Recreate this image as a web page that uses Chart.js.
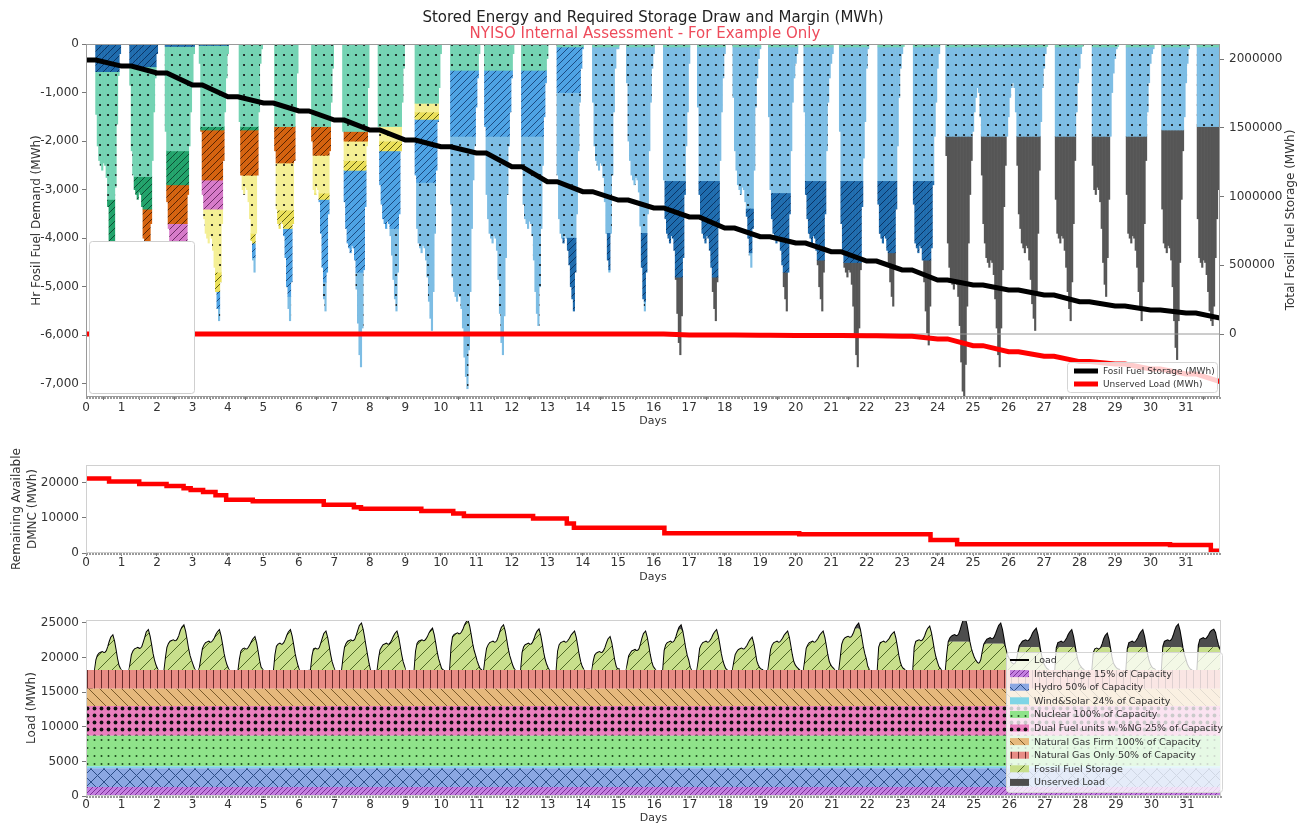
<!DOCTYPE html>
<html><head><meta charset="utf-8">
<script src="https://cdn.jsdelivr.net/npm/chart.js@4.4.1/dist/chart.umd.min.js"></script>
<style>
body{margin:0;background:#fff;width:1301px;height:825px;overflow:hidden;position:relative;font-family:'DejaVu Sans',sans-serif;}
canvas{position:absolute;left:0;}
.t{position:absolute;left:0;text-align:center;font-size:15px;line-height:18px;white-space:nowrap;z-index:3;}
#rt{position:absolute;left:1140px;top:211px;width:300px;height:18px;line-height:18px;text-align:center;font-size:12px;color:#333;transform:rotate(-90deg);transform-origin:150px 9px;z-index:3;white-space:nowrap;}
</style></head><body>
<canvas id="c1" width="1301" height="432" style="top:0"></canvas>
<canvas id="c2" width="1301" height="150" style="top:440px"></canvas>
<canvas id="c3" width="1301" height="225" style="top:600px"></canvas>
<div class="t" style="top:8px;width:1306px;color:#222">Stored Energy and Required Storage Draw and Margin (MWh)</div>
<div class="t" style="top:24px;width:1290px;color:#ee4b5b">NYISO Internal Assessment - For Example Only</div>
<div id="rt">Total Fosil Fuel Storage (MWh)</div>
<script>
// ---------------- DATA ----------------
const dayTickLabels = [0,1,2,3,4,5,6,7,8,9,10,11,12,13,14,15,16,17,18,19,20,21,22,23,24,25,26,27,28,29,30,31];

// hourly load (MWh), 24 values per day, days 0..31
const hourlyLoad = [
16600,16000,15600,15400,15600,16300,18050,19650,20300,20600,20700,20800,20650,20700,20950,21550,22300,22900,23150,22350,21150,19850,18850,18400,
18000,17400,17000,16800,17000,17700,19050,20400,20900,21200,21300,21400,21250,21300,21550,22200,22900,23650,23900,23100,21900,20600,19600,18900,
18400,17900,17700,17600,17800,18100,20000,21450,22000,22300,22400,22500,22350,22400,22650,23150,23850,24350,24600,23800,22600,21300,20300,19600,
19000,18400,18000,17800,17900,18600,20000,21300,21800,22100,22200,22300,22150,22200,22450,22800,23300,23650,23900,23100,21900,20600,19600,18900,
18400,18000,17600,17300,17400,17700,17900,18100,19800,20900,21200,21300,21150,21200,21450,21800,22250,22650,22900,22100,20900,19600,18600,18300,
18000,17600,17300,17100,17200,17500,17800,18100,20400,21600,21900,22000,21850,21900,22150,22600,23200,23650,23900,23100,21900,20600,19600,18800,
18100,18000,17950,17900,17950,18000,18050,18100,18150,20200,21200,21300,21150,21200,21450,22100,22800,23450,23700,22900,21700,20400,19400,18700,
18100,17900,17700,17600,17800,18100,20000,21450,22000,22300,22400,22500,22350,22400,22650,23250,23950,24600,24850,24050,22850,21550,20300,19100,
18100,17900,17800,17800,17900,18100,19900,21100,21500,21800,21900,22000,21850,21900,22150,22550,23050,23450,23700,22900,21700,20400,19400,18700,
17900,17400,17100,16900,17100,17700,18100,20900,22000,22300,22400,22500,22350,22400,22650,23000,23500,23850,24100,23300,22100,20800,19800,19100,
18400,18200,18000,17900,17900,18000,18100,21500,23000,23300,23400,23500,23350,23400,23650,24050,24650,25050,25300,24500,23300,22000,21000,20300,
19500,18900,18400,18200,18000,18100,19900,21300,21800,22100,22200,22300,22150,22200,22450,23050,23750,24350,24600,23800,22600,21300,20300,19600,
18900,18400,18100,17800,17800,18000,18100,20700,21500,21800,21900,22000,21850,21900,22150,22650,23300,23750,24000,23200,22000,20700,19700,19000,
18500,18100,17800,17600,17700,17900,18100,20900,21800,22100,22200,22300,22150,22200,22450,22750,23200,23450,23700,22900,21700,20400,19400,18700,
18300,17200,16200,15400,15500,16300,17900,19400,20300,20600,20700,20800,20650,20700,20950,21450,22100,22650,22900,22100,20900,19600,18700,18300,
18300,17500,17100,16900,17000,17800,19000,20200,20600,20900,21000,21100,20950,21000,21250,21950,22800,23450,23700,22900,21700,20400,19400,18700,
18400,18100,17900,17800,17800,17900,18100,21000,21800,22100,22200,22300,22150,22200,22450,23050,23750,24350,24600,23800,22600,21300,20300,19600,
18600,18100,17900,17800,17800,18000,19500,21300,21800,22100,22200,22300,22150,22200,22450,22800,23300,23650,23900,23100,21900,20600,19600,18900,
18400,18200,17700,17300,17400,18000,19300,20400,20800,21100,21200,21300,21150,21200,21450,21750,22200,22550,22800,22000,20800,19500,18900,18500,
18300,18200,17600,17100,17300,18000,19700,21200,21800,22100,22200,22300,22150,22200,22450,22750,23200,23450,23700,22900,21700,20400,19400,18900,
18600,18400,18200,17900,17900,18000,19600,21300,21800,22100,22200,22300,22150,22200,22450,22750,23200,23450,23700,22900,21700,20400,19400,18900,
18600,18400,18100,17800,17800,18100,20000,21900,22500,22800,22900,23000,22850,22900,23150,23600,24200,24600,24850,24050,22850,21550,20550,19800,
18700,18300,17900,17600,17700,17900,18000,18100,21500,22100,22200,22300,22150,22200,22450,22700,23100,23400,23600,22800,21600,20300,19300,18700,
18400,18250,17600,16900,17000,17500,17900,18100,21500,22300,22400,22500,22350,22400,22650,23100,23700,24150,24400,23600,22400,21100,20100,19400,
18700,18400,18100,17900,17900,18100,20500,22300,22800,23050,23150,23250,23100,23150,23400,24000,24750,25350,25600,24800,23600,22300,21300,20600,
20000,19600,19300,19100,19200,19700,20900,21900,22300,22600,22700,22800,22650,22700,22950,23450,24050,24600,24850,24050,22850,21550,20700,20100,
19700,19300,19100,19000,19100,19600,20700,21700,22000,22300,22400,22500,22350,22400,22650,23050,23550,23850,24100,23300,22100,20800,19800,19100,
18700,18400,18250,18000,17800,17900,18000,18150,21400,22100,22200,22300,22150,22200,22450,22800,23300,23650,23900,23100,21900,20600,19600,19000,
18700,18400,18250,17900,17600,17700,17900,18000,18100,20700,21200,21300,21150,21200,21450,22000,22700,23150,23400,22600,21400,20100,19200,18800,
18500,18300,18250,17900,17600,17700,17900,18100,21300,22100,22200,22300,22150,22200,22450,22800,23300,23650,23900,23100,21900,20600,19600,19000,
18600,18400,18300,18000,17800,17900,18000,18100,21600,22300,22400,22500,22350,22400,22650,23200,23900,24450,24700,23900,22700,21400,20400,19700,
19000,18600,18300,18200,17800,17900,18000,18100,21800,22600,22700,22800,22650,22700,22950,23300,23700,23900,24000,23600,22600,21800,21200,20700
];

// constant capacity layers (MWh)
const layerNames = ['Interchange 15% of Capacity','Hydro 50% of Capacity','Wind&Solar 24% of Capacity','Nuclear 100% of Capacity','Dual Fuel units w %NG 25% of Capacity','Natural Gas Firm 100% of Capacity','Natural Gas Only 50% of Capacity'];
const layerMWh = [1300, 2700, 300, 4400, 4300, 2500, 2700];

// level above which load is unserved, per day (null = none)
const unservedCapDaily = [null,null,null,null,null,null,null,null,null,null,null,null,null,null,null,null,24100,null,null,null,null,24200,null,null,22300,22000,21500,21500,21500,21500,21500,21500];

// storage draw bands per day: [resource, lower bound of band (MWh, negative); null = to the bottom]
const dayBands = [
 [['dBlue',-570],['mint',-3200],['green',null]],
 [['dBlue',-470],['mint',-2730],['green',-3400],['orange',null]],
 [['dBlue',-50],['mint',-2200],['green',-2900],['orange',-3700],['pink',null]],
 [['dBlue',-30],['mint',-1700],['green',-1770],['orange',-2800],['pink',-3400],['yDots',-4700],['yHatch',-5100],['mBlue',-5450],['lBlue',null]],
 [['mint',-1700],['green',-1770],['orange',-2700],['yDots',-3900],['yHatch',-4100],['mBlue',-4400],['lBlue',null]],
 [['mint',-1700],['orange',-2450],['yDots',-3420],['yHatch',-3800],['mBlue',-5200],['lBlue',null]],
 [['mint',-1700],['orange',-2290],['yDots',-3070],['yHatch',-3200],['mBlue',-4900],['lBlue',null]],
 [['mint',-1800],['orange',-2000],['yDots',-2400],['yHatch',-2600],['mBlue',-4700],['lBlue',null]],
 [['mint',-1700],['yDots',-2000],['yHatch',-2200],['mBlue',-3800],['lBlue',null]],
 [['mint',-1220],['yDots',-1400],['yHatch',-1550],['mBlue',-2850],['lBlue',null]],
 [['mint',-540],['mBlue',-1900],['lBlue',null]],
 [['mint',-540],['mBlue',-1900],['lBlue',null]],
 [['mint',-540],['mBlue',-1900],['lBlue',null]],
 [['mint',-60],['mBlue',-1000],['lBlue',-4000],['dBlue',null]],
 [['mint',-60],['lBlue',-3900],['dBlue',-4650],['lBlue',null]],
 [['mint',-60],['lBlue',-3900],['dBlue',-5300],['lBlue',null]],
 [['mint',-60],['lBlue',-2830],['dBlue',-4800],['gray',null]],
 [['mint',-60],['lBlue',-2830],['dBlue',-4800],['gray',null]],
 [['mint',-60],['lBlue',-3400],['dBlue',-4300],['lBlue',null]],
 [['mint',-60],['lBlue',-3080],['dBlue',-4700],['gray',null]],
 [['mint',-60],['lBlue',-2830],['dBlue',-4450],['gray',null]],
 [['mint',-60],['lBlue',-2830],['dBlue',-4500],['gray',null]],
 [['mint',-60],['lBlue',-2830],['dBlue',-4300],['gray',null]],
 [['mint',-60],['lBlue',-2830],['dBlue',-4450],['gray',null]],
 [['mint',-60],['lBlue',-1900],['gray',null]],
 [['mint',-60],['lBlue',-1900],['gray',null]],
 [['mint',-60],['lBlue',-1900],['gray',null]],
 [['mint',-60],['lBlue',-1900],['gray',null]],
 [['mint',-60],['lBlue',-1900],['gray',null]],
 [['mint',-60],['lBlue',-1900],['gray',null]],
 [['mint',-60],['lBlue',-1770],['gray',null]],
 [['mint',-60],['lBlue',-1700],['gray',null]]
];

// fossil fuel storage at start of each day (MWh); last value = end of period
const storageDaily = [1994000,1950000,1900000,1812000,1727000,1681000,1623000,1557000,1485000,1412000,1363000,1317000,1218000,1108000,1036000,975000,917000,852000,771000,708000,662000,599000,531000,466000,393000,357000,320000,284000,235000,204000,175000,153000,116000];
// cumulative unserved load (MWh, negative) at start of each day; last = end
const unservedDaily = [0,0,0,0,0,0,0,0,0,0,0,0,0,0,0,0,0,-7000,-8000,-9000,-10000,-10000,-12000,-17000,-36000,-85000,-129000,-162000,-201000,-218000,-255000,-291000,-347000];

// remaining available DMNC (step changes)
const dmncDay = [0,0.65,1.5,2.27,2.75,2.95,3.3,3.65,3.95,4.7,6.7,7.55,7.75,9.45,10.35,10.65,12.6,13.55,13.75,16.3,20.1,23.8,24.55,30.55,31.7,31.96];
const dmncVal = [21200,20300,19600,19000,18400,17900,17300,16400,15100,14700,13700,13000,12600,11900,11200,10500,9800,8400,7200,5600,5300,3700,2500,2300,650,650];

const topLegendLabels = ['Fosil Fuel Storage (MWh)','Unserved Load (MWh)'];

// ---------------- STYLE HELPERS ----------------
const HOURS = hourlyLoad.length;
const DAYS_MAX = (HOURS - 1) / 24;
Chart.defaults.font.family = "'DejaVu Sans', sans-serif";
Chart.defaults.color = '#333';

function makePattern(bg, kind, fg, w, h, r) {
  h = h || w;
  const c = document.createElement('canvas');
  c.width = w; c.height = h;
  const x = c.getContext('2d');
  x.fillStyle = bg; x.fillRect(0, 0, w, h);
  x.strokeStyle = fg; x.fillStyle = fg; x.lineWidth = 1;
  x.beginPath();
  if (kind === 'slash' || kind === 'cross') {
    for (let k = -1; k <= 1; k++) { x.moveTo(k * w, h); x.lineTo(k * w + w, 0); }
  }
  if (kind === 'back' || kind === 'cross') {
    for (let k = -1; k <= 1; k++) { x.moveTo(k * w, 0); x.lineTo(k * w + w, h); }
  }
  if (kind === 'vline') { x.moveTo(w / 2, 0); x.lineTo(w / 2, h); }
  x.stroke();
  if (kind === 'dots') { x.beginPath(); x.arc(w / 2, h / 2, r, 0, Math.PI * 2); x.fill(); }
  return x.createPattern(c, 'repeat');
}

const topStyle = {
  dBlue: makePattern('#1f6cae', 'slash', '#0a3566', 7),
  mint: makePattern('#74d3b3', 'dots', '#111', 8, 10, 1.1),
  green: makePattern('#22a36b', 'slash', '#0c4f33', 7),
  orange: makePattern('#d4620f', 'slash', '#5a2400', 7),
  pink: makePattern('#d67ac9', 'slash', '#6e2a66', 7),
  yDots: makePattern('#f4ef94', 'dots', '#111', 8, 10, 1.1),
  yHatch: makePattern('#ebe05a', 'slash', '#5b5a10', 7),
  mBlue: makePattern('#4ea3e4', 'slash', '#1b4c82', 7),
  lBlue: makePattern('#7dbde4', 'dots', '#111', 8, 10, 1.1),
  gray: '#565656'
};
const layerStyle = [
  makePattern('#c47fe0', 'slash', '#7a3098', 5),
  makePattern('#8ba7e2', 'cross', '#2b4c86', 13),
  '#7fd5e6',
  makePattern('#8fe38a', 'dots', '#1c4a1c', 7, 8, 1),
  makePattern('#ea7fbe', 'dots', '#111', 7, 7, 1.9),
  makePattern('#e6b97c', 'back', '#7a5a2a', 11),
  makePattern('#e88c85', 'vline', '#6a2a2a', 7)
];
const ffsStyle = makePattern('#c8df8c', 'slash', '#4f6a25', 14);
const unservedStyle = '#4d4d4d';

// ---------------- PLUGINS ----------------
function framePlugin(color) {
  return {
    id: 'frame',
    afterDatasetsDraw(chart) {
      const { ctx, chartArea: a } = chart;
      const xs = chart.scales.x;
      ctx.save();
      ctx.strokeStyle = color; ctx.lineWidth = 1;
      ctx.strokeRect(Math.round(a.left) + 0.5, Math.round(a.top) + 0.5, Math.round(a.right - a.left) - 1, Math.round(a.bottom - a.top) - 1);
      ctx.strokeStyle = '#9a9a9a';
      ctx.beginPath();
      for (let h = 0; h < HOURS; h++) {
        const px = Math.round(xs.getPixelForValue(h / 24)) + 0.5;
        ctx.moveTo(px, a.bottom); ctx.lineTo(px, a.bottom + 2);
      }
      ctx.stroke();
      ctx.restore();
    }
  };
}
function legendPlugin(cfg) {
  return {
    id: 'boxLegend' + cfg.tag,
    afterDraw(chart) {
      const { ctx, chartArea: a } = chart;
      ctx.save();
      if (cfg.blank) {
        const b = cfg.blank;
        ctx.fillStyle = '#ffffff'; ctx.strokeStyle = '#cfcfcf'; ctx.lineWidth = 1;
        ctx.beginPath(); ctx.roundRect(a.left + b.l + 0.5, b.t + 0.5, b.w, a.bottom - b.t - b.b, 3); ctx.fill(); ctx.stroke();
      }
      const x = a.right - cfg.r - cfg.w, y = a.bottom - cfg.b - cfg.h;
      ctx.fillStyle = cfg.bg; ctx.strokeStyle = '#d5d5d5'; ctx.lineWidth = 1;
      ctx.beginPath(); ctx.roundRect(Math.round(x) + 0.5, Math.round(y) + 0.5, cfg.w, cfg.h, 3); ctx.fill(); ctx.stroke();
      ctx.font = cfg.font; ctx.textBaseline = 'middle'; ctx.textAlign = 'left';
      cfg.items.forEach((it, k) => {
        const cy = y + cfg.top + k * cfg.rowH;
        if (it.line) {
          ctx.strokeStyle = it.line; ctx.lineWidth = it.lw;
          ctx.beginPath(); ctx.moveTo(x + cfg.sx, cy); ctx.lineTo(x + cfg.sx + cfg.sw, cy); ctx.stroke();
        } else {
          ctx.fillStyle = it.fill; ctx.fillRect(x + cfg.sx, cy - cfg.sh / 2, cfg.sw, cfg.sh);
        }
        ctx.fillStyle = '#333'; ctx.fillText(it.label, x + cfg.tx, cy + 0.5);
      });
      ctx.restore();
    }
  };
}

function xAxis(h, tickLen, tickPad, titlePad) {
  return {
    type: 'linear', min: 0, max: DAYS_MAX, offset: false,
    grid: { display: true, drawOnChartArea: false, drawTicks: true, tickLength: tickLen, color: '#777' },
    border: { display: false },
    ticks: { padding: tickPad, font: { size: 12 }, color: '#333', maxRotation: 0, autoSkip: false, callback: v => String(v) },
    afterBuildTicks: s => { s.ticks = dayTickLabels.map(v => ({ value: v })); },
    afterFit: s => { s.height = h; },
    title: { display: true, text: 'Days', font: { size: 11 }, color: '#333', padding: { top: 0, bottom: titlePad } }
  };
}
function yAxis(pos, w, min, max, tickVals, fmt, title, titleFont, titlePadTop, lh) {
  return {
    type: 'linear', position: pos, min, max,
    grid: { display: true, drawOnChartArea: false, drawTicks: true, tickLength: 4, color: '#777' },
    border: { display: false },
    ticks: { padding: pos === 'right' ? 5 : 3, font: { size: 12 }, color: '#333', callback: fmt },
    afterBuildTicks: s => { s.ticks = tickVals.map(v => ({ value: v })); },
    afterFit: s => { s.width = w; },
    title: title ? { display: true, text: title, font: { size: titleFont, lineHeight: lh || 1.2 }, color: '#333', padding: { top: titlePadTop, bottom: 0 } } : { display: false }
  };
}

// ---------------- CHART 1 ----------------
const firmCapacity = layerMWh.reduce((s, v) => s + v, 0);
const segs = {};
Object.keys(topStyle).forEach(k => segs[k] = []);
for (let i = 0; i < HOURS; i++) {
  const D = Math.min(0, firmCapacity - hourlyLoad[i]);
  if (D >= 0) continue;
  const d = Math.min(dayBands.length - 1, Math.max(0, Math.floor((i - 5) / 24)));
  let prev = 0;
  for (const [key, bottom] of dayBands[d]) {
    const b = bottom === null ? D : Math.max(bottom, D);
    if (b < prev) segs[key].push({ x: i / 24, y: [prev, b] });
    prev = b;
    if (b <= D) break;
  }
}
function dailyPts(arr) {
  const pts = [];
  arr.forEach((v, d) => {
    if (d < arr.length - 1) { pts.push({ x: d, y: v }, { x: d + 0.28, y: v }); }
    else pts.push({ x: DAYS_MAX, y: v });
  });
  return pts;
}
const ds1 = Object.keys(topStyle).map(k => ({
  type: 'bar', label: k, data: segs[k], backgroundColor: topStyle[k], borderWidth: 0,
  grouped: false, barPercentage: 1, categoryPercentage: 1, yAxisID: 'y', order: 5
}));
ds1.push({ type: 'line', data: [{ x: 0, y: 0 }, { x: DAYS_MAX, y: 0 }], borderColor: '#9a9a9a', borderWidth: 1, pointRadius: 0, yAxisID: 'y1', order: 3 });
ds1.push({ type: 'line', data: dailyPts(unservedDaily), borderColor: '#ff0000', borderWidth: 5, pointRadius: 0, yAxisID: 'y1', order: 2 });
ds1.push({ type: 'line', data: dailyPts(storageDaily), borderColor: '#000000', borderWidth: 5, pointRadius: 0, yAxisID: 'y1', order: 1 });

new Chart(document.getElementById('c1'), {
  type: 'bar',
  data: { datasets: ds1 },
  options: {
    responsive: false, animation: false, devicePixelRatio: 1,
    layout: { padding: { top: 44, left: 0, right: 0, bottom: 0 } },
    plugins: { legend: { display: false }, tooltip: { enabled: false } },
    scales: {
      x: xAxis(35, 3, 1, 4),
      y: yAxis('left', 86, -7270, 0, [-7000,-6000,-5000,-4000,-3000,-2000,-1000,0], v => v.toLocaleString('en-US'), 'Hr Fosil Fuel Demand (MWh)', 12, 30),
      y1: yAxis('right', 81, -458500, 2110600, [0,500000,1000000,1500000,2000000], v => String(v), null)
    }
  },
  plugins: [framePlugin('#9a9a9a'), legendPlugin({
    tag: 'a', blank: { l: 3, t: 241, w: 105, b: 4 },
    r: 3, b: 5, w: 150, h: 30, bg: 'rgba(255,255,255,0.8)', font: '9px "DejaVu Sans"',
    top: 9, rowH: 13, sx: 7, sw: 24, sh: 5, tx: 36,
    items: [{ label: topLegendLabels[0], line: '#000', lw: 5 }, { label: topLegendLabels[1], line: '#ff0000', lw: 5 }]
  })]
});

// ---------------- CHART 2 ----------------
new Chart(document.getElementById('c2'), {
  type: 'line',
  data: { datasets: [{ data: dmncDay.map((d, i) => ({ x: d, y: dmncVal[i] })), stepped: 'before', borderColor: '#ff0000', borderWidth: 4.5, pointRadius: 0 }] },
  options: {
    responsive: false, animation: false, devicePixelRatio: 1,
    layout: { padding: { top: 25, left: 0, right: 81, bottom: 0 } },
    plugins: { legend: { display: false }, tooltip: { enabled: false } },
    scales: {
      x: xAxis(37, 3, 0, 6),
      y: yAxis('left', 86, 0, 25000, [0, 10000, 20000], v => String(v), ['Remaining Available', 'DMNC (MWh)'], 12, 9.5, 1.3)
    }
  },
  plugins: [framePlugin('#d0d0d0')]
});

// ---------------- CHART 3 ----------------
const hoursX = hourlyLoad.map((v, i) => i / 24);
const ds3 = [];
let cum = 0;
layerMWh.forEach((v, k) => {
  cum += v;
  const level = cum;
  ds3.push({ label: layerNames[k], data: hoursX.map(x => ({ x, y: level })), borderWidth: 0, pointRadius: 0, fill: k === 0 ? 'origin' : '-1', backgroundColor: layerStyle[k] });
});
const ffsTop = hourlyLoad.map((v, i) => {
  const cap = unservedCapDaily[Math.floor(i / 24)];
  return Math.max(firmCapacity, cap === null ? v : Math.min(v, cap));
});
ds3.push({ label: 'Fossil Fuel Storage', data: hoursX.map((x, i) => ({ x, y: ffsTop[i] })), borderWidth: 0, pointRadius: 0, fill: '-1', backgroundColor: ffsStyle });
ds3.push({ label: 'Unserved Load', data: hoursX.map((x, i) => ({ x, y: Math.max(ffsTop[i], hourlyLoad[i]) })), borderWidth: 0, pointRadius: 0, fill: '-1', backgroundColor: unservedStyle });
ds3.push({ label: 'Load', data: hoursX.map((x, i) => ({ x, y: hourlyLoad[i] })), borderColor: '#000', borderWidth: 2, pointRadius: 0, fill: false });

const legend3Items = [{ label: 'Load', line: '#000', lw: 2 }]
  .concat(layerNames.map((n, k) => ({ label: n, fill: layerStyle[k] })))
  .concat([{ label: 'Fossil Fuel Storage', fill: ffsStyle }, { label: 'Unserved Load', fill: unservedStyle }]);

new Chart(document.getElementById('c3'), {
  type: 'line',
  data: { datasets: ds3 },
  options: {
    responsive: false, animation: false, devicePixelRatio: 1,
    layout: { padding: { top: 20, left: 0, right: 80, bottom: 0 } },
    plugins: { legend: { display: false }, tooltip: { enabled: false } },
    scales: {
      x: xAxis(29, 2, 0, 0),
      y: yAxis('left', 86, 0, 25430, [0, 5000, 10000, 15000, 20000, 25000], v => String(v), 'Load (MWh)', 12, 25)
    }
  },
  plugins: [framePlugin('#d0d0d0'), legendPlugin({
    tag: 'b', r: -1, b: 4, w: 216, h: 140, bg: 'rgba(255,255,255,0.78)', font: '9.5px "DejaVu Sans"',
    top: 8, rowH: 13.6, sx: 4, sw: 19, sh: 7, tx: 28,
    items: legend3Items
  })]
});
</script>
</body></html>
